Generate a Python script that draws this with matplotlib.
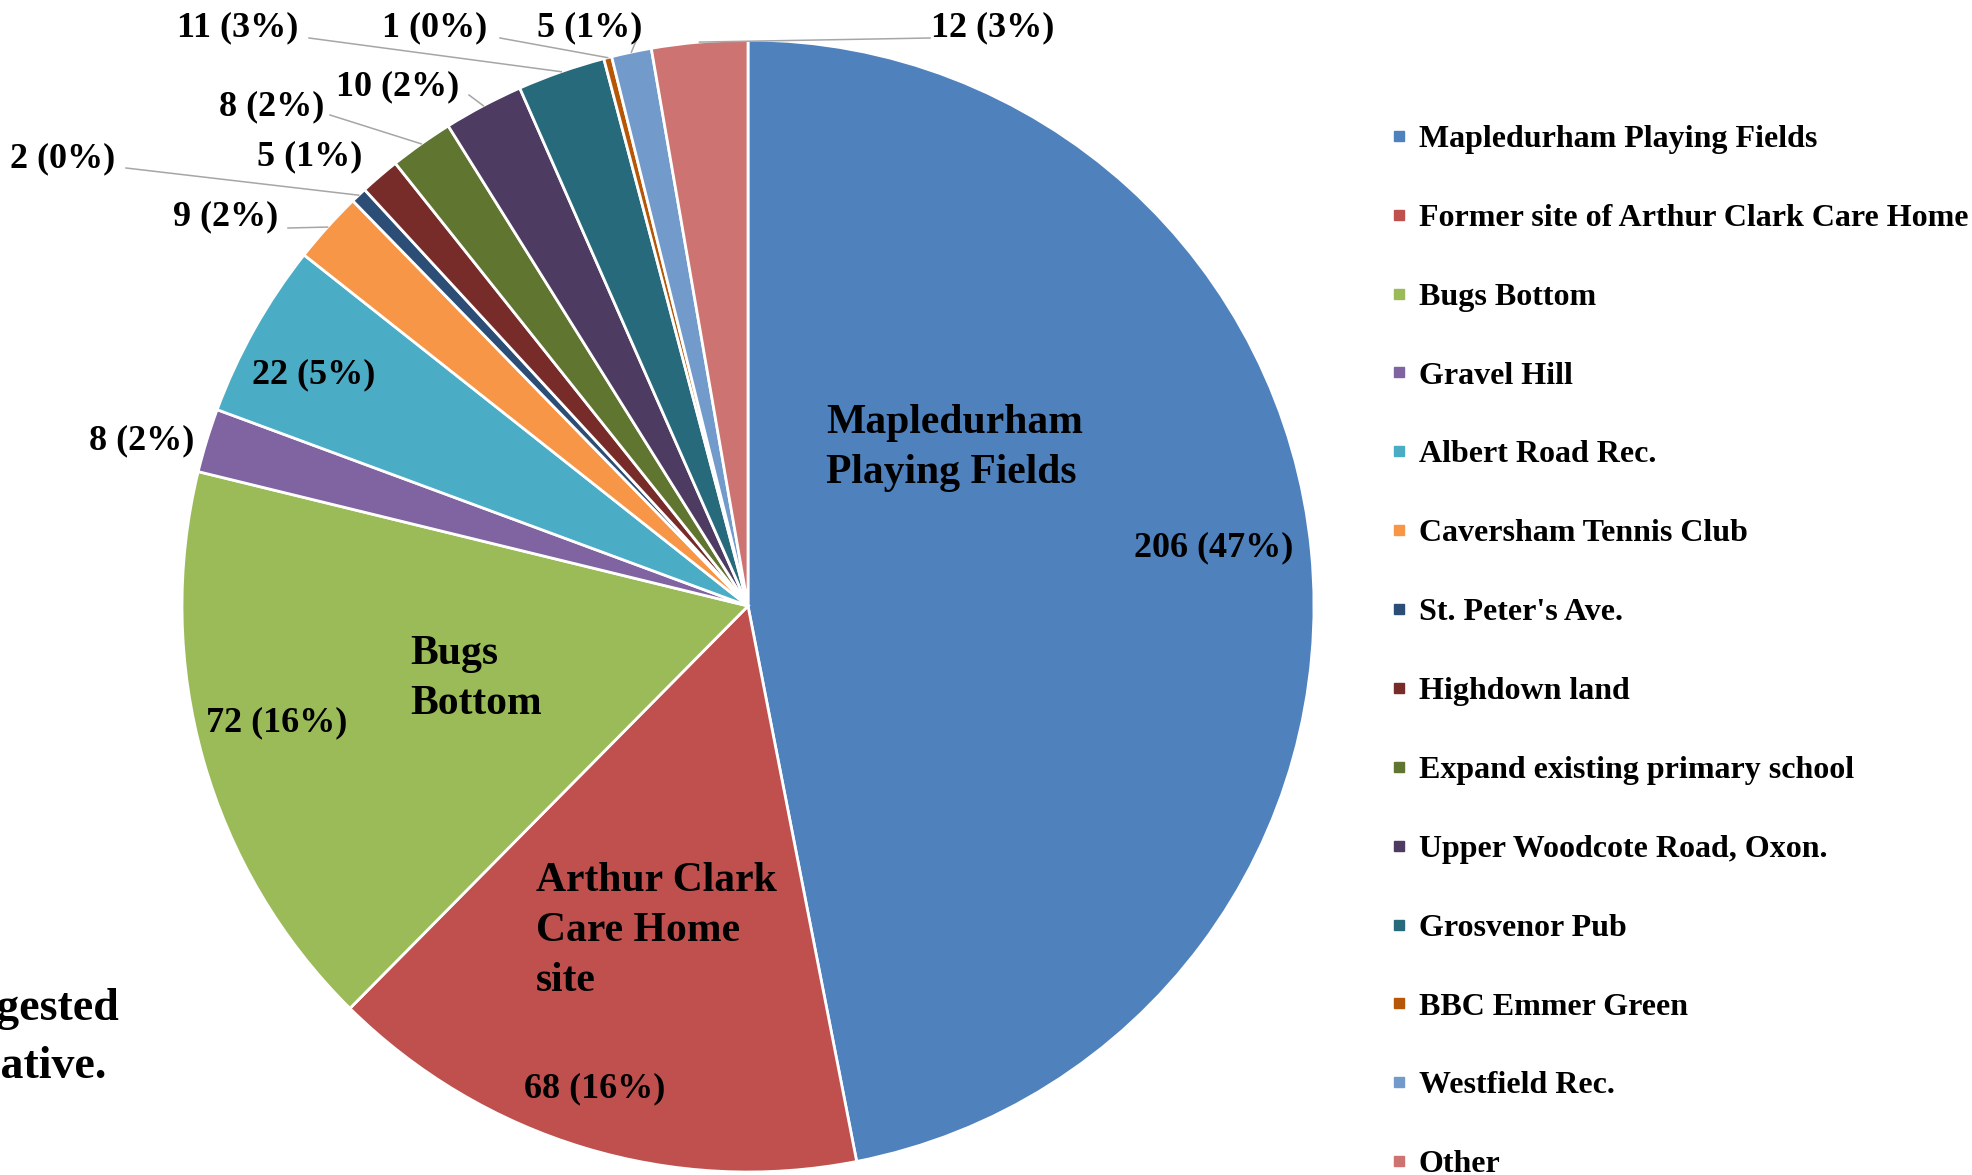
import numpy as np
import matplotlib
matplotlib.use("Agg")
import matplotlib.pyplot as plt
from matplotlib.lines import Line2D

W, H = 1972, 1175

sites = ["Mapledurham Playing Fields", "Former site of Arthur Clark Care Home",
         "Bugs Bottom", "Gravel Hill", "Albert Road Rec.", "Caversham Tennis Club",
         "St. Peter's Ave.", "Highdown land", "Expand existing primary school",
         "Upper Woodcote Road, Oxon.", "Grosvenor Pub", "BBC Emmer Green",
         "Westfield Rec.", "Other"]
votes = [206, 68, 72, 8, 22, 9, 2, 5, 8, 10, 11, 1, 5, 12]
# percentages as printed on the chart
pcts = [47, 16, 16, 2, 5, 2, 0, 1, 2, 2, 3, 0, 1, 3]
colors = ["#4F81BD", "#C0504D", "#9BBB59", "#8064A2", "#4BACC6", "#F79646",
          "#2C4D75", "#772C2A", "#5F7530", "#4D3B62", "#276A7C", "#B65708",
          "#729ACA", "#CD7371"]

# label position (pixels) and where the leader line leaves the label (None = no line)
label_pos = [(1214, 548, None), (595, 1089, None), (277, 723, None),
             (142, 441, None), (314, 375, None), (226, 217, (288, 228)),
             (63, 159, (126, 168)), (310, 157, None), (272, 107, (330, 115)),
             (398, 87, (469, 95)), (238, 28, (309, 38)), (435, 28, (500, 38)),
             (590, 28, (636, 41)), (993, 28, (930, 38))]

serif = "Liberation Serif"
fig = plt.figure(figsize=(W / 100, H / 100), dpi=100)
ax = fig.add_axes([0, 0, 1, 1])

cx, cy, r = 748, 606, 566
# y axis is inverted below, so startangle=-90 + counterclock draws clockwise from 12 o'clock
wedges, _ = ax.pie(votes, colors=colors, startangle=-90, counterclock=True,
                   center=(cx, cy), radius=r,
                   wedgeprops=dict(edgecolor="white", linewidth=2))
ax.set_xlim(0, W)
ax.set_ylim(H, 0)
ax.axis("off")

for w, v, p, (lx, ly, lend) in zip(wedges, votes, pcts, label_pos):
    ax.text(lx, ly, f"{v} ({p}%)", ha="center", va="center",
            fontsize=26, fontweight="bold", family=serif)
    if lend is not None:
        mid = np.deg2rad((w.theta1 + w.theta2) / 2)
        ex, ey = cx + r * np.cos(mid), cy + r * np.sin(mid)
        ax.plot([lend[0], ex], [lend[1], ey], color="#A6A6A6", lw=1.1)

cat_style = dict(ha="left", va="center", fontsize=30, fontweight="bold",
                 family=serif, linespacing=1.43)
ax.text(826, 448, "Mapledurham\nPlaying Fields", **cat_style)
ax.text(410, 679, "Bugs\nBottom", **cat_style)
ax.text(536, 931, "Arthur Clark\nCare Home\nsite", **cat_style)

ax.text(119, 1009, "Suggested", ha="right", va="center",
        fontsize=33, fontweight="bold", family=serif)
ax.text(107, 1067, "alternative.", ha="right", va="center",
        fontsize=33, fontweight="bold", family=serif)

handles = [Line2D([], [], marker="s", ls="", markersize=7.5, color=c) for c in colors]
ax.legend(handles, sites, loc="center left", bbox_to_anchor=(1393, 652),
          bbox_transform=ax.transData, frameon=False, borderpad=0, borderaxespad=0,
          handlelength=0.4, handletextpad=0.4, labelspacing=1.55,
          prop={"family": serif, "weight": "bold", "size": 23})

fig.savefig("out.png", dpi=100)
